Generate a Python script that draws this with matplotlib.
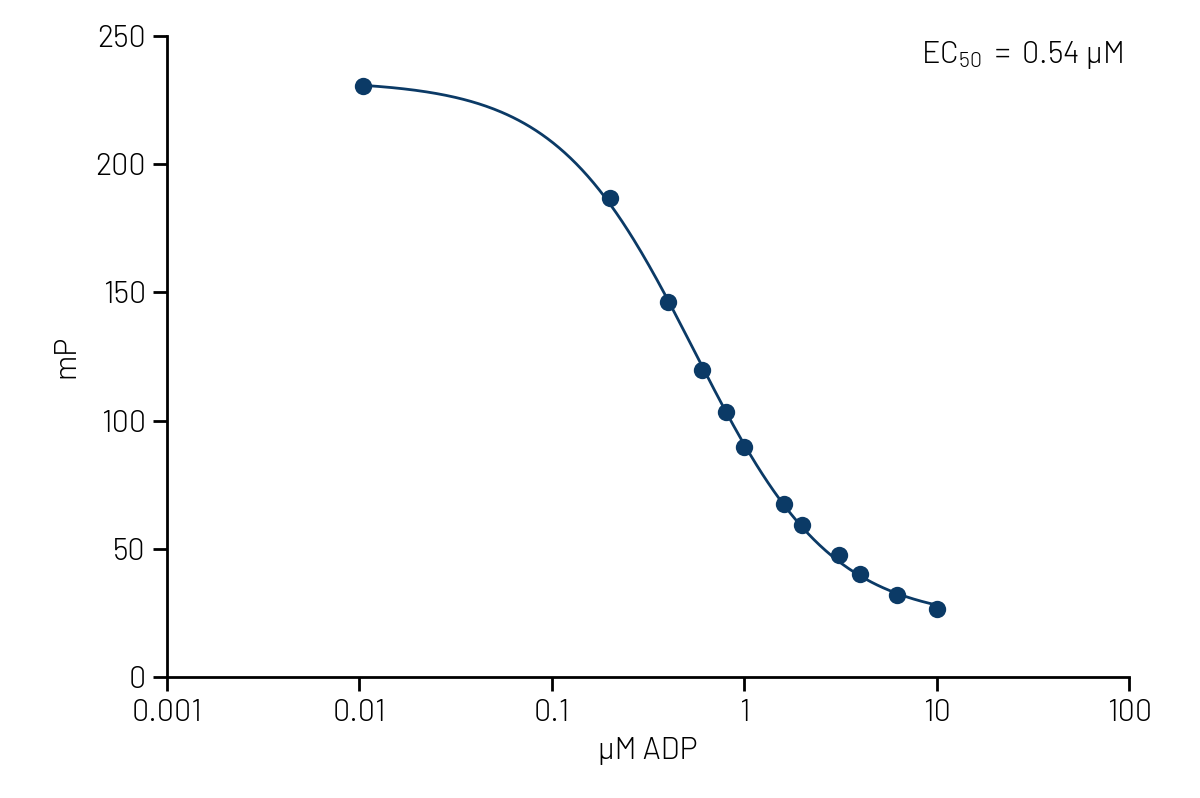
import numpy as np
import matplotlib
matplotlib.use('Agg')
import matplotlib.pyplot as plt

# data
adp_um = [0.0105, 0.2, 0.4, 0.6, 0.8, 1.0, 1.6, 2.0, 3.1, 4.0, 6.25, 10.0]
mp = [230.5, 186.8, 146.3, 119.7, 103.4, 89.7, 67.5, 59.3, 47.6, 40.2, 32.0, 26.5]

x_ticks = [0.001, 0.01, 0.1, 1, 10, 100]
x_ticklabels = ['0.001', '0.01', '0.1', '1', '10', '100']
y_ticks = [0, 50, 100, 150, 200, 250]
ec50_label = '0.54'

NAVY = '#0b3a66'
FONT = ['Barlow', 'Roboto', 'DejaVu Sans']


def fit_4pl(x, y):
    # grid over hill / ec50, top and bottom by linear least squares
    x = np.asarray(x); y = np.asarray(y)
    best = None
    for h in np.linspace(0.6, 2.0, 141):
        for c in np.logspace(-1, 0.3, 131):
            f = 1.0 / (1.0 + (x / c) ** h)
            A = np.column_stack([np.ones_like(f), f])
            coef, *_ = np.linalg.lstsq(A, y, rcond=None)
            sse = np.sum((A @ coef - y) ** 2)
            if best is None or sse < best[0]:
                best = (sse, coef[0], coef[0] + coef[1], c, h)
    return best[1:]


bottom, top, ec50, hill = fit_4pl(adp_um, mp)

plt.rcParams['font.family'] = FONT
plt.rcParams['font.weight'] = 300
plt.rcParams['axes.labelweight'] = 300
plt.rcParams['mathtext.fontset'] = 'custom'
plt.rcParams['mathtext.rm'] = 'Barlow:light'
plt.rcParams['mathtext.default'] = 'regular'

FS = 22

fig = plt.figure(figsize=(12, 7.98), dpi=100)
ax = fig.add_axes([0.139, 0.1516, 0.802, 0.8033])

xs = np.logspace(np.log10(adp_um[0]), np.log10(adp_um[-1]), 300)
ys = bottom + (top - bottom) / (1 + (xs / ec50) ** hill)
ax.plot(xs, ys, color=NAVY, lw=2)
ax.plot(adp_um, mp, 'o', color=NAVY, ms=12.5, mec='none')

ax.set_xscale('log')
ax.set_xlim(0.001, 100)
ax.set_ylim(0, 250)
ax.set_xticks(x_ticks)
ax.set_xticklabels(x_ticklabels)
ax.set_yticks(y_ticks)
ax.minorticks_off()
ax.tick_params(direction='out', length=10, width=2, labelsize=FS)
ax.tick_params(axis='x', pad=6)
ax.tick_params(axis='y', pad=5)

for s in ['top', 'right']:
    ax.spines[s].set_visible(False)
for s in ['left', 'bottom']:
    ax.spines[s].set_linewidth(2)

ax.set_xlabel('µM ADP', fontsize=FS, labelpad=7)
ax.set_ylabel('mP', fontsize=FS, labelpad=11)

ax.text(0.993, 0.995, r'EC$_{50}$ $=$ ' + ec50_label + ' µM', transform=ax.transAxes,
        ha='right', va='top', fontsize=FS)

fig.savefig('out.png', dpi=100)
